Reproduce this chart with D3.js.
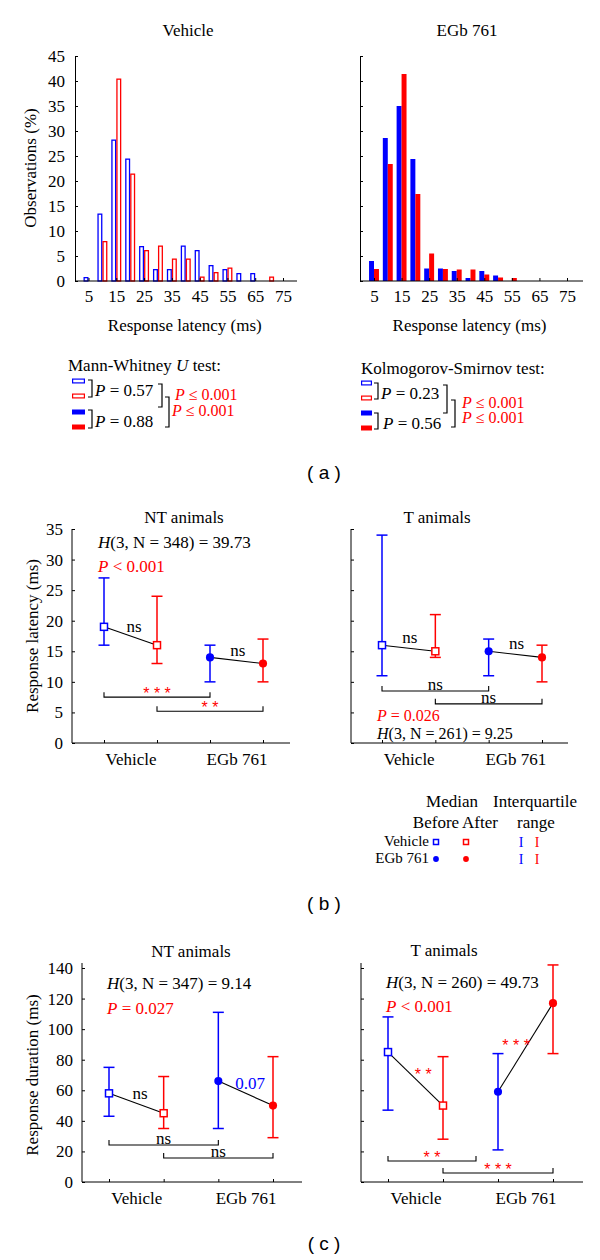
<!DOCTYPE html>
<html><head><meta charset="utf-8">
<script src="https://cdn.jsdelivr.net/npm/d3@7"></script>
<style>
body{margin:0;background:#fff;}
</style></head><body>
<svg id="chart" width="600" height="1260" style="font-family:'Liberation Serif','Times New Roman',serif"></svg>
<script>
// ---------- DATA ----------
const histTitles = ["Vehicle", "EGb 761"];
const latencyBins = [5,10,15,20,25,30,35,40,45,50,55,60,65,70,75];
const vehicleBefore = [0.8,13.5,28.3,24.5,7.0,2.4,2.4,7.1,6.2,3.2,2.4,1.6,1.6,0,0];
const vehicleAfter  = [0,8.0,40.5,21.5,6.2,7.1,4.5,4.5,0.9,1.8,2.7,0,0,0.9,0];
const egbBefore     = [4.0,28.6,35.0,24.4,2.5,2.5,2.0,0.6,2.0,1.1,0,0,0,0,0];
const egbAfter      = [2.4,23.4,41.4,17.4,5.5,2.4,2.3,2.3,1.3,0.7,0.6,0,0,0,0];
const histYTicks = [0,5,10,15,20,25,30,35,40,45];
const histXTicks = [5,15,25,35,45,55,65,75];

const groups = ["Vehicle", "EGb 761"];
// order: Vehicle before, Vehicle after, EGb before, EGb after
const latNTMedian = [19,16,14,13];
const latNTQ1     = [16,13,10,10];
const latNTQ3     = [27,24,16,17];
const latTMedian  = [16,15,15,14];
const latTQ1      = [11,14,11,10];
const latTQ3      = [34,21,17,16];
const durNTMedian = [58,45,66,50];
const durNTQ1     = [43,35,35,29];
const durNTQ3     = [75,69,111,82];
const durTMedian  = [85,50,59,117];
const durTQ1      = [47,28,21,84];
const durTQ3      = [108,82,84,142];
const latTicks = [0,5,10,15,20,25,30,35];
const durTicks = [0,20,40,60,80,100,120,140];

const latNTPairs = ["ns","ns"];
const latTPairs  = ["ns","ns"];
const durNTPairs = ["ns","0.07"];
const durTPairs  = ["**","***"];
const latNTBrackets = [{from:0,to:2,at:7.5,text:"***"},{from:1,to:3,at:5.2,text:"**"}];
const latTBrackets  = [{from:0,to:2,at:8.5,text:"ns"},{from:1,to:3,at:6.4,text:"ns"}];
const durNTBrackets = [{from:0,to:2,at:24.2,text:"ns"},{from:1,to:3,at:15.7,text:"ns"}];
const durTBrackets  = [{from:0,to:1.6,at:13.7,text:"**"},{from:1,to:3,at:5.9,text:"***"}];

// ---------- DRAWING ----------
const BLUE = "#0000ff", RED = "#ff0000", FS = 17;
const SERIF = "'Liberation Serif','Times New Roman',serif";
const SANS = "'Liberation Sans',Arial,sans-serif";
const svg = d3.select("#chart");
svg.append("rect").attr("width",600).attr("height",1260).attr("fill","#fff");

function label(g, x, y, parts, opt = {}) {
  const t = g.append("text").attr("x", x).attr("y", y)
    .attr("text-anchor", opt.anchor || "start")
    .attr("dominant-baseline", "central")
    .attr("fill", opt.color || "#000")
    .style("font-family", SERIF)
    .style("font-size", (opt.size || FS) + "px");
  (Array.isArray(parts) ? parts : [[parts, false]]).forEach(([s, it]) => {
    t.append("tspan").style("font-style", it ? "italic" : "normal").text(s);
  });
  if (opt.rotate) t.attr("transform", `rotate(-90,${x},${y})`);
  return t;
}
function isStars(s){ return /^\*+$/.test(s); }
function annot(g, x, yc, s, color) {
  if (isStars(s)) {
    g.append("text").attr("x", x).attr("y", yc + 9).attr("text-anchor","middle")
      .attr("fill", color).style("font-size", "16px")
      .style("font-family", SANS)
      .text(s.split("").join(" "));
  } else {
    label(g, x, yc, s, {anchor:"middle", color});
  }
}
function styleAxis(a) {
  a.attr("font-size", null).attr("font-family", null).attr("color", "#000");
  a.selectAll("text").style("font-family", SERIF).style("font-size", FS + "px");
  a.selectAll("line").attr("stroke-width", 1);
}

function drawHist(o) {
  const g = svg.append("g");
  const x = d3.scaleLinear().domain([5,75]).range(o.xr);
  const y = d3.scaleLinear().domain([0,45]).range([281,56]);
  const bw = (x(10) - x(5)) * 0.36;
  const sw = 1.3;
  [[o.before, BLUE, -1], [o.after, RED, 0]].forEach(([vals, col, side]) => {
    const data = latencyBins.map((b, i) => ({b, v: vals[i]})).filter(d => d.v > 0);
    g.selectAll(null).data(data).join("rect")
      .attr("x", d => (side < 0 ? x(d.b) - bw : x(d.b)) + (o.filled ? 0 : sw/2))
      .attr("width", o.filled ? bw : bw - sw)
      .attr("y", d => y(d.v) + (o.filled ? 0 : sw/2))
      .attr("height", d => Math.max(0.5, y(0) - y(d.v) - (o.filled ? 0 : sw/2)))
      .attr("fill", o.filled ? col : "#fff")
      .attr("stroke", o.filled ? "none" : col)
      .attr("stroke-width", sw);
  });
  const ya = g.append("g").attr("transform", `translate(${o.ax},0)`)
    .call(d3.axisLeft(y).tickValues(histYTicks).tickSizeInner(-3).tickSizeOuter(0)
      .tickPadding(10).tickFormat(o.labels ? d3.format("d") : () => ""));
  styleAxis(ya);
  const xa = g.append("g").attr("transform", `translate(0,${y(0)})`)
    .call(d3.axisBottom(x).tickValues(histXTicks).tickSizeInner(-3).tickSizeOuter(0).tickPadding(9));
  styleAxis(xa);
  xa.select(".domain").remove();
  g.append("line").attr("x1", o.ax).attr("x2", o.xEnd).attr("y1", y(0)).attr("y2", y(0))
    .attr("stroke", "#000");
  label(g, o.titleX, 30, o.title, {anchor:"middle"});
  label(g, (o.xr[0] + o.xr[1]) / 2 - 1, 325, "Response latency (ms)", {anchor:"middle"});
  if (o.labels) label(g, 30, 168, "Observations (%)", {anchor:"middle", rotate:true});
}

drawHist({xr:[88.5,283], ax:75, xEnd:297, labels:true, filled:false,
  before:vehicleBefore, after:vehicleAfter, title:histTitles[0], titleX:188});
drawHist({xr:[374,567], ax:360, xEnd:583, labels:false, filled:true,
  before:egbBefore, after:egbAfter, title:histTitles[1], titleX:467});

// legend (a)
function bracket(g, x, y1, y2, w = 4) {
  g.append("path").attr("d", `M${x-w},${y1}H${x}V${y2}H${x-w}`)
    .attr("fill","none").attr("stroke","#000").attr("stroke-width",1.2);
}
function legendRects(g, x, w, ys) {
  const types = [[BLUE,false],[RED,false],[BLUE,true],[RED,true]];
  ys.forEach((yy, i) => {
    const [c, f] = types[i];
    g.append("rect").attr("x", x + (f?0:0.6)).attr("y", yy - 2.5 + (f?0:0.6))
      .attr("width", f ? w : w - 1.2).attr("height", f ? 5 : 3.8)
      .attr("fill", f ? c : "#fff").attr("stroke", f ? "none" : c).attr("stroke-width", 1.2);
  });
}
{
  const g = svg.append("g");
  label(g, 68, 365, [["Mann-Whitney ",false],["U",true],[" test:",false]]);
  legendRects(g, 72, 13, [381, 396, 412, 427]);
  bracket(g, 92, 380, 397);
  label(g, 95, 390, [["P",true],[" = 0.57",false]]);
  bracket(g, 92, 410, 428);
  label(g, 95, 421, [["P",true],[" = 0.88",false]]);
  bracket(g, 162, 384, 407);
  bracket(g, 169, 397, 427);
  label(g, 175, 394, [["P",true],[" ≤ 0.001",false]], {color:RED, size:16});
  label(g, 172, 410, [["P",true],[" ≤ 0.001",false]], {color:RED, size:16});

  label(g, 361, 368, "Kolmogorov-Smirnov test:");
  legendRects(g, 361, 11, [383, 398, 413, 428]);
  bracket(g, 378, 383, 399);
  label(g, 381, 393, [["P",true],[" = 0.23",false]]);
  bracket(g, 378, 413, 429);
  label(g, 383, 423, [["P",true],[" = 0.56",false]]);
  bracket(g, 447, 385, 413);
  bracket(g, 455, 400, 427);
  label(g, 462, 402, [["P",true],[" ≤ 0.001",false]], {color:RED, size:16});
  label(g, 462, 417, [["P",true],[" ≤ 0.001",false]], {color:RED, size:16});
}

function panelTag(y, s) {
  svg.append("text").attr("x", 324).attr("y", y).attr("text-anchor","middle")
    .attr("dominant-baseline","central").style("font-size", "19px")
    .style("font-family", SANS).text(s);
}
panelTag(472, "( a )");
panelTag(903, "( b )");
panelTag(1243, "( c )");

function marker(g, x, y, i, s) {
  const c = i % 2 === 0 ? BLUE : RED;
  if (i < 2) {
    g.append("rect").attr("x", x - s/2).attr("y", y - s/2).attr("width", s).attr("height", s)
      .attr("fill", "#fff").attr("stroke", c).attr("stroke-width", 1.5);
  } else {
    g.append("circle").attr("cx", x).attr("cy", y).attr("r", s * 0.58).attr("fill", c);
  }
}

function drawDots(o) {
  const g = svg.append("g");
  const x = d3.scaleLinear().domain([0,3]).range(o.xr);
  const y = d3.scaleLinear().domain([0,o.max]).range([o.y0, o.yTop]);
  const ya = g.append("g").attr("transform", `translate(${o.ax},0)`)
    .call(d3.axisLeft(y).tickValues(o.ticks).tickSizeInner(-3).tickSizeOuter(0)
      .tickPadding(9).tickFormat(o.labels ? d3.format("d") : () => ""));
  styleAxis(ya);
  ya.select(".domain").remove();
  g.append("line").attr("x1", o.ax).attr("x2", o.ax).attr("y1", o.y0).attr("y2", o.axTop).attr("stroke","#000");
  const xa = g.append("g").attr("transform", `translate(0,${o.y0})`)
    .call(d3.axisBottom(x).tickValues([0,1,2,3]).tickSizeInner(-3).tickSizeOuter(0).tickFormat(() => ""));
  styleAxis(xa);
  xa.select(".domain").remove();
  g.append("line").attr("x1", o.ax).attr("x2", o.xEnd).attr("y1", o.y0).attr("y2", o.y0).attr("stroke","#000");
  const gx = d3.scalePoint().domain(groups).range([(x(0)+x(1))/2, (x(2)+x(3))/2]);
  const ga = g.append("g").attr("transform", `translate(0,${o.y0})`)
    .call(d3.axisBottom(gx).tickSize(0).tickPadding(10));
  styleAxis(ga);
  ga.select(".domain").remove();

  [[0,1],[2,3]].forEach(([a,b], k) => {
    const x1 = x(a), y1 = y(o.median[a]), x2 = x(b), y2 = y(o.median[b]);
    g.append("line").attr("x1",x1).attr("y1",y1).attr("x2",x2).attr("y2",y2)
      .attr("stroke","#000").attr("stroke-width",1.1);
    const dx = x2 - x1, dy = y2 - y1, L = Math.hypot(dx, dy);
    let nx = dy / L, ny = -dx / L;
    if (ny > 0) { nx = -nx; ny = -ny; }
    const off = 11;
    const s = o.pairs[k];
    const col = s === "0.07" ? BLUE : (isStars(s) ? RED : "#000");
    annot(g, (x1+x2)/2 + nx*off, (y1+y2)/2 + ny*off, s, col);
  });
  o.median.forEach((m, i) => {
    const c = i % 2 === 0 ? BLUE : RED, xx = x(i);
    g.append("line").attr("x1",xx).attr("x2",xx).attr("y1",y(o.q1[i])).attr("y2",y(o.q3[i]))
      .attr("stroke",c).attr("stroke-width",1.5);
    [o.q1[i], o.q3[i]].forEach(v => g.append("line").attr("x1",xx-5.5).attr("x2",xx+5.5)
      .attr("y1",y(v)).attr("y2",y(v)).attr("stroke",c).attr("stroke-width",1.5));
  });
  o.median.forEach((m, i) => marker(g, x(i), y(m), i, 7));
  o.brackets.forEach(b => {
    const yy = y(b.at);
    g.append("path").attr("d", `M${x(b.from)},${yy-5}V${yy}H${x(b.to)}V${yy-5}`)
      .attr("fill","none").attr("stroke","#000").attr("stroke-width",1.1);
    annot(g, (x(b.from)+x(b.to))/2, yy - 7, b.text, isStars(b.text) ? RED : "#000");
  });
  label(g, o.titleX, o.titleY, o.title, {anchor:"middle"});
  if (o.ytitle) label(g, 32, (o.y0 + o.yTop)/2, o.ytitle, {anchor:"middle", rotate:true});
  o.texts.forEach(t => label(g, t[0], t[1], t[2], {color: t[3] || "#000", size: t[4] || FS}));
}

drawDots({xr:[104,263], ax:72, xEnd:290, y0:743, yTop:529, axTop:529, max:35, ticks:latTicks, labels:true,
  median:latNTMedian, q1:latNTQ1, q3:latNTQ3, pairs:latNTPairs, brackets:latNTBrackets,
  title:"NT animals", titleX:184, titleY:517, ytitle:"Response latency (ms)",
  texts:[[98,542,[["H",true],["(3, N = 348) = 39.73",false]]],[98,566,[["P",true],[" < 0.001",false]],RED]]});
drawDots({xr:[382,542], ax:351, xEnd:568, y0:743, yTop:529, axTop:529, max:35, ticks:latTicks, labels:false,
  median:latTMedian, q1:latTQ1, q3:latTQ3, pairs:latTPairs, brackets:latTBrackets,
  title:"T animals", titleX:437, titleY:517,
  texts:[[377,715,[["P",true],[" = 0.026",false]],RED,16],[377,733,[["H",true],["(3, N = 261) = 9.25",false]],"#000",16]]});
drawDots({xr:[109,273], ax:82, xEnd:302, y0:1182, yTop:968, axTop:963, max:140, ticks:durTicks, labels:true,
  median:durNTMedian, q1:durNTQ1, q3:durNTQ3, pairs:durNTPairs, brackets:durNTBrackets,
  title:"NT animals", titleX:191, titleY:951, ytitle:"Response duration (ms)",
  texts:[[107,983,[["H",true],["(3, N = 347) = 9.14",false]]],[107,1008,[["P",true],[" = 0.027",false]],RED]]});
drawDots({xr:[388,553], ax:361, xEnd:583, y0:1182, yTop:968, axTop:963, max:140, ticks:durTicks, labels:false,
  median:durTMedian, q1:durTQ1, q3:durTQ3, pairs:durTPairs, brackets:durTBrackets,
  title:"T animals", titleX:444, titleY:950,
  texts:[[386,982,[["H",true],["(3, N = 260) = 49.73",false]]],[386,1006,[["P",true],[" < 0.001",false]],RED]]});

// legend (b)
{
  const g = svg.append("g");
  label(g, 452, 801, "Median", {anchor:"middle"});
  label(g, 535, 801, "Interquartile", {anchor:"middle"});
  label(g, 436, 822, "Before", {anchor:"middle"});
  label(g, 480, 822, "After", {anchor:"middle"});
  label(g, 536, 822, "range", {anchor:"middle"});
  const rows = [["Vehicle", 841, 0], ["EGb 761", 858, 2]];
  rows.forEach(([name, yy, i0]) => {
    label(g, 429, yy, name, {anchor:"end", size:15});
    marker(g, 436, yy + 1, i0, 5);
    marker(g, 466, yy + 1, i0 + 1, 5);
    label(g, 521, yy + 1, "I", {anchor:"middle", color:BLUE, size:14});
    label(g, 537, yy + 1, "I", {anchor:"middle", color:RED, size:14});
  });
}
</script>
</body></html>
